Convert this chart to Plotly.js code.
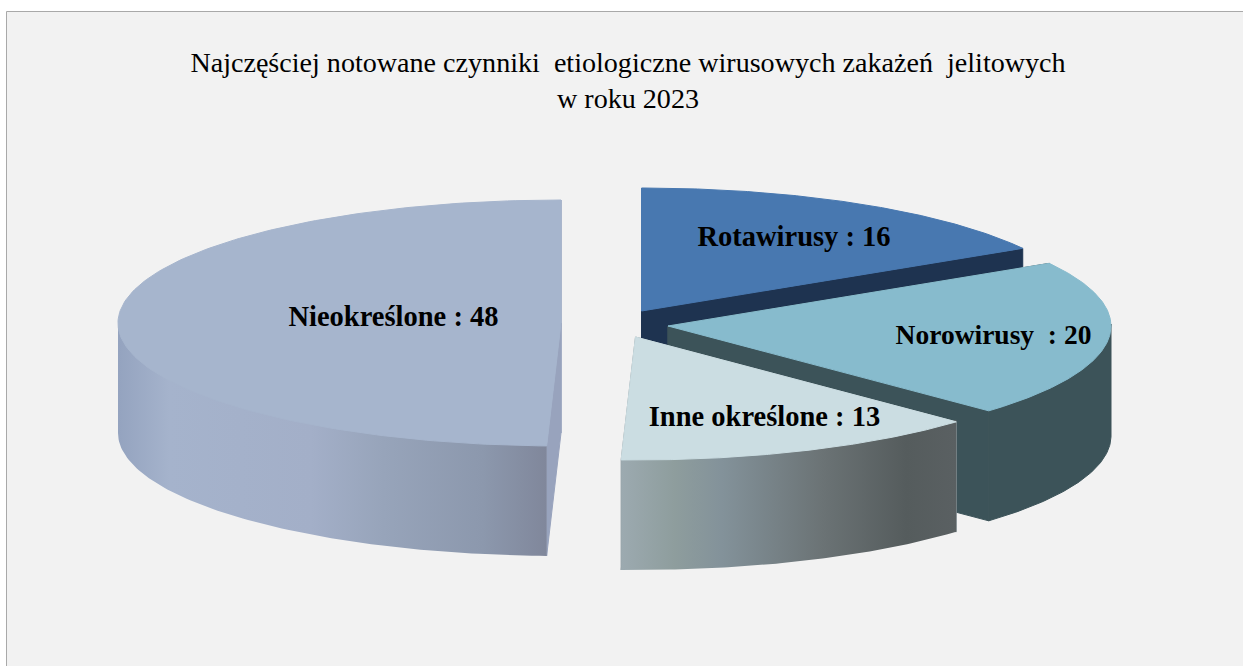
<!DOCTYPE html>
<html><head><meta charset="utf-8">
<script src="https://cdn.plot.ly/plotly-3.0.1.min.js"></script>
<style>html,body{margin:0;padding:0;background:#fff}#chart{width:1243px;height:666px}</style>
</head><body><div id="chart"></div>
<script>
// Data
const categories = ['Rotawirusy', 'Norowirusy', 'Inne określone', 'Nieokreślone'];
const values = [16, 20, 13, 48];
const labelSeparators = [' : ', '\u00a0 : ', ' : ', ' : '];
const titleLines = ['Najczęściej notowane czynniki\u00a0 etiologiczne wirusowych zakażeń\u00a0 jelitowych', 'w roku 2023'];

// Styles
const topColors = ['#4878b0', '#87bbcd', '#cbdde2', '#a6b5cd'];
const faceColors = ['#1e3350', '#3c5359', '#8a979c', '#98a3bd'];
const wallScales = [
  null,
  null,
  [[0,'#9caab0'],[0.16,'#8e9d9d'],[0.3,'#83929a'],[0.6,'#6b7375'],[0.85,'#555c5d'],[1,'#5a6062']],
  [[0,'#94a3bf'],[0.12,'#a5b3cc'],[0.45,'#a3afc8'],[0.62,'#97a4ba'],[0.85,'#8c98ad'],[1,'#80879b']]
];
// Geometry of the exploded, tilted pie (plot units = px of the 1243x666 canvas)
const apexX = [641.5, 668, 635.5, 561];
const apexY = [311, 326, 337, 323];
const labelX = [794, 993.5, 764.5, 393.5];
const labelY = [239, 337, 419, 319];
const labelSizes = [28.5, 27.5, 28.5, 28.5];
const radiusX = 443, radiusY = 123, depth = 110;

const total = values.reduce((a, b) => a + b, 0);
const traces = [];
function poly(xs, ys, fill, gradient) {
  const t = {type:'scatter', mode:'lines', x:xs, y:ys, fill:'toself', hoverinfo:'skip', showlegend:false,
             line: gradient ? {width:0} : {width:1, color:fill}};
  if (gradient) t.fillgradient = gradient; else t.fillcolor = fill;
  traces.push(t);
}
function rim(i, a) { return [apexX[i] + radiusX * Math.sin(a), apexY[i] - radiusY * Math.cos(a)]; }
let cum = 0;
categories.forEach((c, i) => {
  const a1 = cum / total * 2 * Math.PI;
  cum += values[i];
  const a2 = cum / total * 2 * Math.PI;
  // outer wall: only the front half of the rim shows (its upper edge tucks under the top surface)
  const w1 = Math.max(a1, Math.PI / 2), w2 = Math.min(a2, 1.5 * Math.PI);
  // radial cut faces
  [a1, a2].forEach(a => {
    const p = rim(i, a);
    poly([apexX[i], p[0], p[0], apexX[i], apexX[i]],
         [apexY[i], p[1], p[1] + depth, apexY[i] + depth, apexY[i]], faceColors[i]);
  });
  if (w2 > w1) {
    const n = 90, up = [], low = [];
    for (let k = 0; k <= n; k++) {
      const p = rim(i, w1 + (w2 - w1) * k / n);
      up.push([p[0], p[1] - 2]); low.push([p[0], p[1] + depth]);
    }
    const ring = up.concat(low.reverse());
    ring.push(up[0]);
    const xs = ring.map(p => p[0]);
    const ys = ring.map(p => p[1]);
    if (wallScales[i]) {
      poly(xs, ys, null, {type:'horizontal', start:Math.min(...xs), stop:Math.max(...xs), colorscale:wallScales[i]});
    } else {
      poly(xs, ys, faceColors[i]);
    }
  }
  // top surface
  const xs = [apexX[i]], ys = [apexY[i]];
  const n = 180;
  for (let k = 0; k <= n; k++) {
    const p = rim(i, a1 + (a2 - a1) * k / n);
    xs.push(p[0]); ys.push(p[1]);
  }
  xs.push(apexX[i]); ys.push(apexY[i]);
  poly(xs, ys, topColors[i]);
});
traces.push({
  type:'scatter', mode:'text', x:labelX, y:labelY,
  text:categories.map((c, i) => c + labelSeparators[i] + values[i]),
  textposition:'middle center',
  textfont:{family:'"Liberation Serif", serif', size:labelSizes, color:'#000', weight:'bold'},
  hoverinfo:'skip', showlegend:false
});

const layout = {
  width:1243, height:666, margin:{l:0, r:0, t:0, b:0},
  paper_bgcolor:'#ffffff', plot_bgcolor:'#ffffff', showlegend:false,
  xaxis:{range:[0,1243], visible:false, fixedrange:true},
  yaxis:{range:[666,0], visible:false, fixedrange:true},
  shapes:[{type:'rect', layer:'below', xref:'x', yref:'y', x0:6.5, y0:11.5, x1:1300, y1:720,
           fillcolor:'#f2f2f2', line:{color:'#a9a9a9', width:1}}],
  title:{text:titleLines.join('<br>'), x:628/1243, xanchor:'center', xref:'paper', yref:'container', y:1-71.5/666, yanchor:'middle',
         font:{family:'"Liberation Serif", serif', size:28.1, color:'#000'}}
};
Plotly.newPlot('chart', traces, layout, {displayModeBar:false, staticPlot:true});
</script></body></html>
